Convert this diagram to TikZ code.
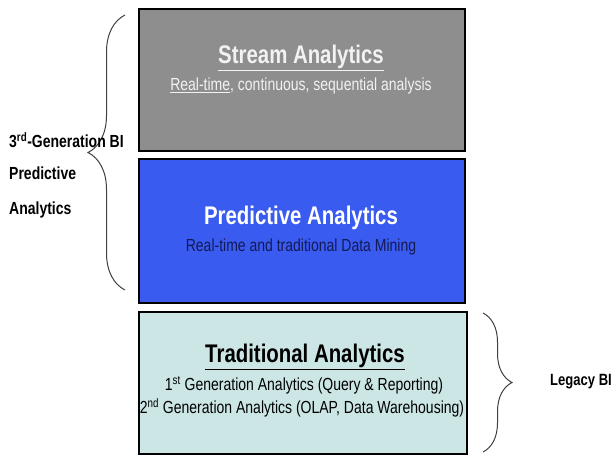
\documentclass[tikz,border=0pt]{standalone}
\usepackage{fontspec}
\setmainfont[FakeStretch=0.8]{Liberation Sans}
\usetikzlibrary{decorations.pathreplacing}
\definecolor{streamgray}{HTML}{8E8E8E}
\definecolor{predblue}{HTML}{3A5BF0}
\definecolor{tradcyan}{HTML}{CCE6E6}
\definecolor{navytext}{HTML}{141A55}
\definecolor{lighttext}{HTML}{F2F2F2}
\tikzset{
  layerbox/.style={draw=black, line width=2pt, minimum width=326pt, minimum height=142pt, anchor=north west, inner sep=0pt},
  titletext/.style={font=\bfseries\fontsize{25.5}{28}\selectfont, anchor=center, inner sep=0pt},
  subtext/.style={font=\fontsize{17.5}{19}\selectfont, anchor=center, inner sep=0pt},
  sidetext/.style={font=\bfseries\fontsize{17.5}{19}\selectfont, anchor=west, inner sep=0pt},
  bracestyle/.style={draw=black!75, line width=1pt, decorate, decoration={brace, amplitude=#1, aspect=0.5}}
}
\begin{document}
\begin{tikzpicture}[x=1pt, y=-1pt]
\useasboundingbox (0,0) rectangle (614,455);
% boxes
\node[layerbox, fill=streamgray] (stream) at (138,8) {};
\node[layerbox, fill=predblue, minimum height=144pt] (pred) at (138,158) {};
\node[layerbox, fill=tradcyan, minimum width=328pt] (trad) at (138,311) {};
% stream text
\node[titletext, text=lighttext] (streamtitle) at (301,58) {\underline{Stream Analytics}};
\node[subtext, text=lighttext] (streamsub) at (301,86) {\underline{Real-time}, continuous, sequential analysis};
% predictive text
\node[titletext, text=white] (predtitle) at (301,218) {Predictive Analytics};
\node[subtext, text=navytext] (predsub) at (301,247) {Real-time and traditional Data Mining};
% traditional text
\node[titletext, text=black] (tradtitle) at (305,357) {\underline{Traditional Analytics}};
\node[subtext, text=black] (tradsub1) at (304,385) {1\textsuperscript{st} Generation Analytics (Query \& Reporting)};
\node[subtext, text=black] (tradsub2) at (302,408) {2\textsuperscript{nd} Generation Analytics (OLAP, Data Warehousing)};
% left brace
\coordinate (lbtop) at (125,15);
\coordinate (lbbot) at (125,290);
\draw[bracestyle=37pt] (lbbot) -- (lbtop);
\node[sidetext] (gen3) at (9,140) {3\textsuperscript{rd}-Generation BI};
\node[sidetext] (predlbl) at (9,173) {Predictive};
\node[sidetext] (anllbl) at (9,210) {Analytics};
% right brace
\coordinate (rbtop) at (483,313);
\coordinate (rbbot) at (483,452);
\draw[bracestyle=29pt] (rbtop) -- (rbbot);
\node[sidetext, font=\bfseries\fontsize{16.3}{18}\selectfont] (legacy) at (550,382) {Legacy BI};
\end{tikzpicture}
\end{document}
